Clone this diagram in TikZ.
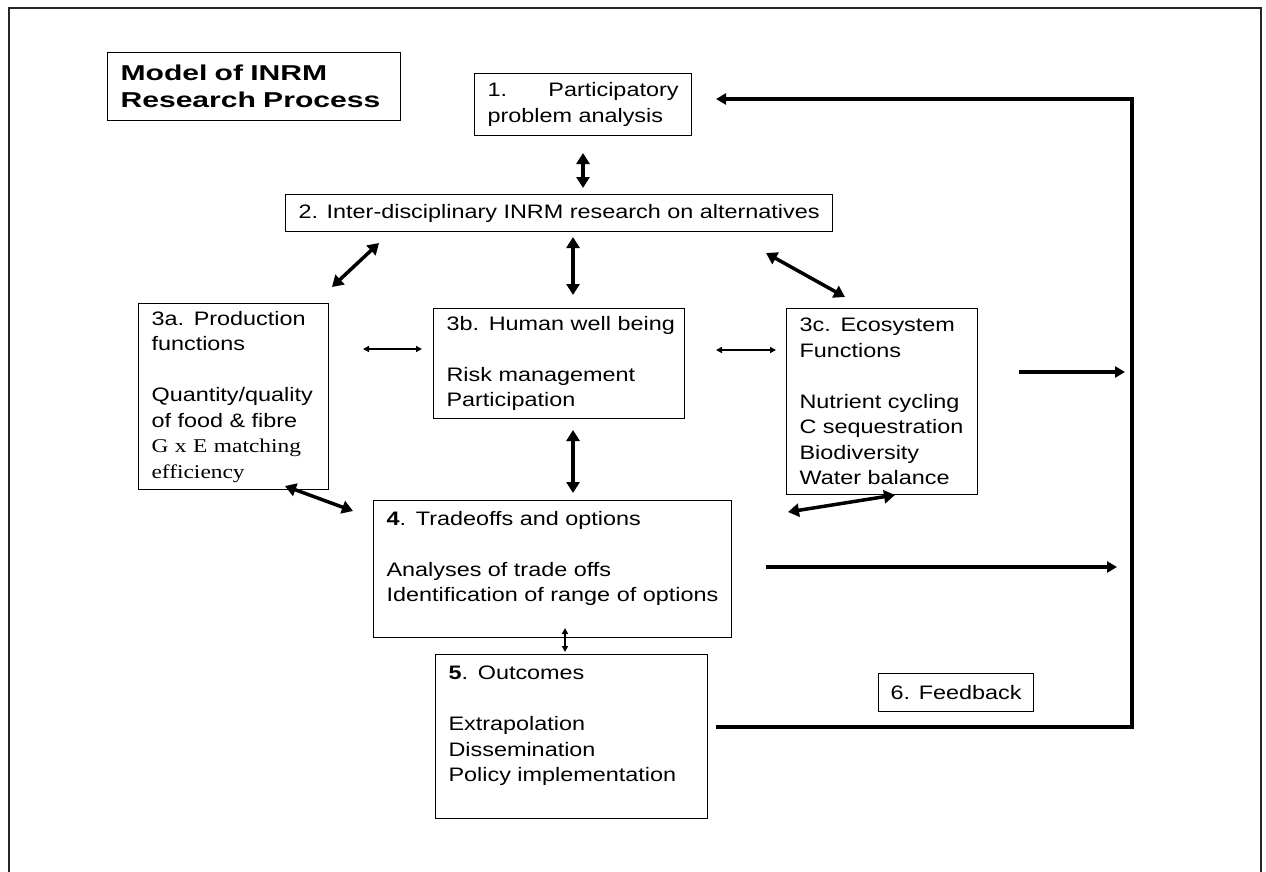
\documentclass[tikz,border=0pt]{standalone}
\usepackage{fontspec}
\setmainfont{Liberation Sans}[FakeStretch=1.2]
\newfontfamily\timespart{Liberation Serif}[FakeStretch=1.2]
\newfontfamily\headpart{Liberation Sans}[FakeStretch=1.4]
\usetikzlibrary{arrows.meta}

\begin{document}
\begin{tikzpicture}[x=1pt,y=-1pt,
    stage/.style={draw,line width=1.1pt,anchor=north west,align=left,inner xsep=13pt,inner ysep=0pt,
      font=\fontsize{19.5}{25.5}\selectfont},
    oneline/.style={stage,align=center,inner xsep=0pt},
    bigarr/.style={line width=3.5pt,{Triangle[length=11pt,width=13pt]}-{Triangle[length=11pt,width=13pt]}},
    smallarr/.style={line width=1.5pt,{Triangle[length=6pt,width=6pt]}-{Triangle[length=6pt,width=6pt]}},
    looparr/.style={line width=4pt,-{Triangle[length=10pt,width=11pt]}}]
        \useasboundingbox (0,0) rectangle (1266,872);
        % boxes
        \node[stage,text width=267pt,minimum height=68pt,font=\headpart\bfseries\fontsize{21.5}{27}\selectfont] (0) at (107,52) {Model of INRM\\Research Process};
        \node[stage,text width=191pt,minimum height=62pt] (1) at (474,73) {\hbox to\linewidth{1.\hfill Participatory}\\problem analysis};
        \node[oneline,minimum width=547pt,minimum height=37pt] (2) at (285,194) {2. Inter-disciplinary INRM research on alternatives};
        \node[stage,text width=164pt,minimum height=186pt] (3) at (138,303) {3a. Production\\functions\\ \mbox{}\\Quantity/quality\\of food \& fibre\\{\timespart G x E matching}\\{\timespart efficiency}};
        \node[stage,text width=225pt,minimum height=110pt] (4) at (433,308) {\mbox{3b. Human well being}\\ \mbox{}\\Risk management\\Participation};
        \node[stage,text width=165pt,minimum height=186pt] (5) at (786,308) {3c. Ecosystem\\Functions\\ \mbox{}\\Nutrient cycling\\C sequestration\\Biodiversity\\Water balance};
        \node[stage,text width=332pt,minimum height=137pt] (6) at (373,500) {\textbf{4}. Tradeoffs and options\\ \mbox{}\\Analyses of trade offs\\Identification of range of options\\ \mbox{}};
        \node[stage,text width=246pt,minimum height=164pt] (7) at (435,654) {\textbf{5}. Outcomes\\ \mbox{}\\Extrapolation\\Dissemination\\Policy implementation\\ \mbox{}};
        \node[oneline,minimum width=155pt,minimum height=38pt] (8) at (878,673) {6. Feedback};
        % arrow ends
        \node (10) at (583,153) {};
        \node (11) at (583,188) {};
        \node (12) at (379,243) {};
        \node (13) at (332,287) {};
        \node (14) at (573,237) {};
        \node (15) at (573,295) {};
        \node (16) at (766,253) {};
        \node (17) at (845,297) {};
        \node (18) at (363,349) {};
        \node (19) at (422,349) {};
        \node (20) at (716,350) {};
        \node (21) at (776,350) {};
        \node (22) at (573,430) {};
        \node (23) at (573,493) {};
        \node (24) at (285,486) {};
        \node (25) at (353,511) {};
        \node (26) at (788,512) {};
        \node (27) at (895,495) {};
        \node (28) at (565,628) {};
        \node (29) at (565,652) {};
        \node (30) at (1019,372) {};
        \node (31) at (1125,372) {};
        \node (32) at (766,567) {};
        \node (33) at (1117,567) {};
        \node (34) at (716,727) {};
        \node (35) at (1132,727) {};
        \node (36) at (1132,99) {};
        \node (37) at (716,99) {};
        \node (38) at (9,872) {};
        \node (39) at (9,8) {};
        \node (40) at (1261,8) {};
        \node (41) at (1261,872) {};
        % frame
        \draw[line width=1.5pt,black!85] (38.center) to (39.center) to (40.center) to (41.center);
        % links
        \draw[bigarr] (10.center) to (11.center);
        \draw[bigarr] (12.center) to (13.center);
        \draw[bigarr] (14.center) to (15.center);
        \draw[bigarr] (16.center) to (17.center);
        \draw[smallarr] (18.center) to (19.center);
        \draw[smallarr] (20.center) to (21.center);
        \draw[bigarr] (22.center) to (23.center);
        \draw[bigarr] (24.center) to (25.center);
        \draw[bigarr] (26.center) to (27.center);
        \draw[smallarr] (28.center) to (29.center);
        \draw[looparr] (30.center) to (31.center);
        \draw[looparr] (32.center) to (33.center);
        \draw[looparr] (34.center) -- (35.center) -- (36.center) -- (37.center);
\end{tikzpicture}
\end{document}
